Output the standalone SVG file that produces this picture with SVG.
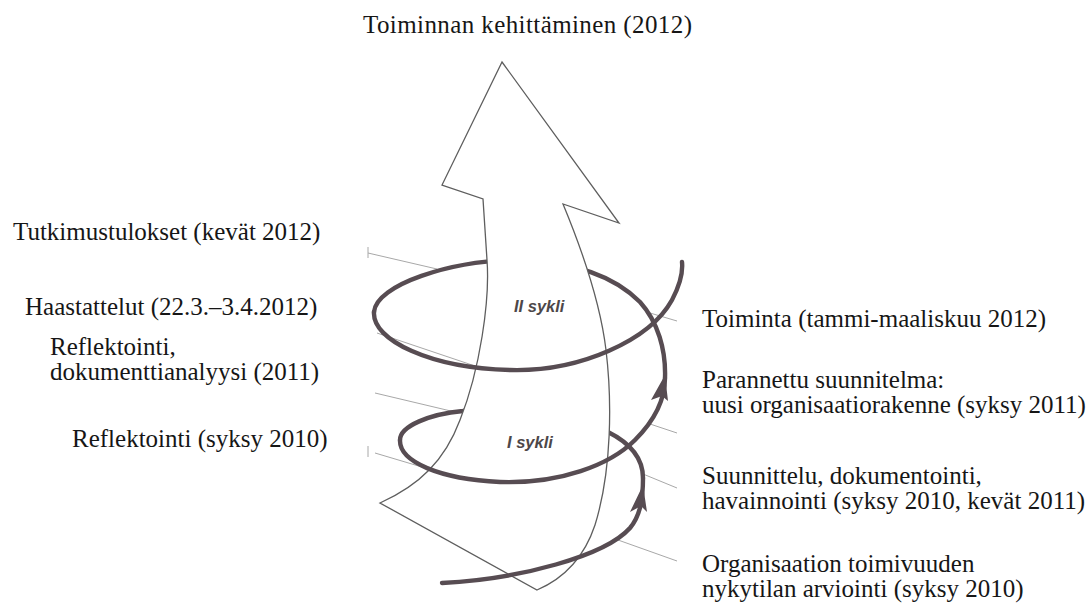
<svg xmlns="http://www.w3.org/2000/svg" width="1088" height="614" viewBox="0 0 1088 614">
  <style>
    .lbl { font-family: "Liberation Serif", "Times New Roman", serif; font-size: 25px; fill: #161616; }
    .cyc { font-family: "Liberation Sans", Arial, sans-serif; font-size: 16.5px; font-weight: bold; font-style: italic; fill: #4d4749; }
    .guide { stroke: #a8a8a8; stroke-width: 1; fill: none; }
    .spiral { stroke: #574c52; stroke-width: 4.4; fill: none; stroke-linecap: round; }
    .shape { fill: #ffffff; stroke: #5e5e5e; stroke-width: 1.3; stroke-linejoin: miter; }
    .head { fill: #574c52; }
  </style>

  <rect width="1088" height="614" fill="#ffffff"/>

  <!-- perspective guide lines behind the spiral -->
  <g id="guides">
    <path class="guide" d="M368,253 L437,269"/>
    <path class="guide" d="M368,247 L368,258"/>
    <path class="guide" d="M377,333 L478,367"/>
    <path class="guide" d="M375,393 L455,412"/>
    <path class="guide" d="M375,453 L432,470"/>
    <path class="guide" d="M368,446 L368,457"/>
    <path class="guide" d="M650,313 L677,321"/>
    <path class="guide" d="M650,424 L677,433"/>
    <path class="guide" d="M643,474 L677,488"/>
    <path class="guide" d="M618,540 L677,561"/>
  </g>

  <g id="connectors">
    <!-- rear halves of the spiral, partly hidden by the arrow -->
    <path id="spiral-back-1" class="spiral" d="M643,478 C643,458 630,443 608,432 C570,412 500,405 463,411 C430,414 400,426 400,440"/>
    <path id="spiral-back-2" class="spiral" d="M665,378 C666,350 658,322 640,302 C615,277 575,262 520,260 C450,260 376,285 374,312"/>
  </g>

  <!-- the large upward arrow -->
  <g id="arrow">
    <path class="shape" d="M502,62 L619,223 L563,204 C580,245 600,300 606,350 C612,400 612,470 595,525 C585,555 565,578 537,590 L380,503 C420,485 445,460 460,420 C480,370 490,300 487,260 L483,199 L442,185 Z"/>
  </g>

  <g id="connectors-front">
    <!-- front halves of the spiral, drawn over the arrow -->
    <path id="spiral-front-1" class="spiral" d="M442,583 C520,579 605,556 630,528 C640,516 643,500 643,478"/>
    <path id="spiral-front-2" class="spiral" d="M400,440 C399,462 440,479 500,482 C560,484 610,465 635,440 C655,420 665,400 665,378"/>
    <path id="spiral-front-3" class="spiral" d="M374,312 C372,340 430,368 510,370 C580,372 650,340 672,300 C680,285 683,272 682,262"/>
    <path class="head" d="M643,485 L647,512 L641,506 L630,512 Z"/>
    <path class="head" d="M665,375 L668,401 L662,396 L651,400 Z"/>
  </g>

  <g id="cycle-labels">
    <text class="cyc" x="514" y="312">II sykli</text>
    <text class="cyc" x="507" y="448">I sykli</text>
  </g>

  <g id="top-label">
    <text class="lbl" x="363" y="33" textLength="329" lengthAdjust="spacing">Toiminnan kehittäminen (2012)</text>
  </g>

  <g id="left-labels">
    <text class="lbl" x="13" y="240">Tutkimustulokset (kevät 2012)</text>
    <text class="lbl" x="25" y="315">Haastattelut (22.3.–3.4.2012)</text>
    <text class="lbl" x="50" y="355">Reflektointi,</text>
    <text class="lbl" x="50" y="380">dokumenttianalyysi (2011)</text>
    <text class="lbl" x="72" y="447">Reflektointi (syksy 2010)</text>
  </g>

  <g id="right-labels">
    <text class="lbl" x="702" y="327">Toiminta (tammi-maaliskuu 2012)</text>
    <text class="lbl" x="702" y="388">Parannettu suunnitelma:</text>
    <text class="lbl" x="702" y="413">uusi organisaatiorakenne (syksy 2011)</text>
    <text class="lbl" x="702" y="484">Suunnittelu, dokumentointi,</text>
    <text class="lbl" x="702" y="509">havainnointi (syksy 2010, kevät 2011)</text>
    <text class="lbl" x="702" y="572">Organisaation toimivuuden</text>
    <text class="lbl" x="702" y="597">nykytilan arviointi (syksy 2010)</text>
  </g>
</svg>
